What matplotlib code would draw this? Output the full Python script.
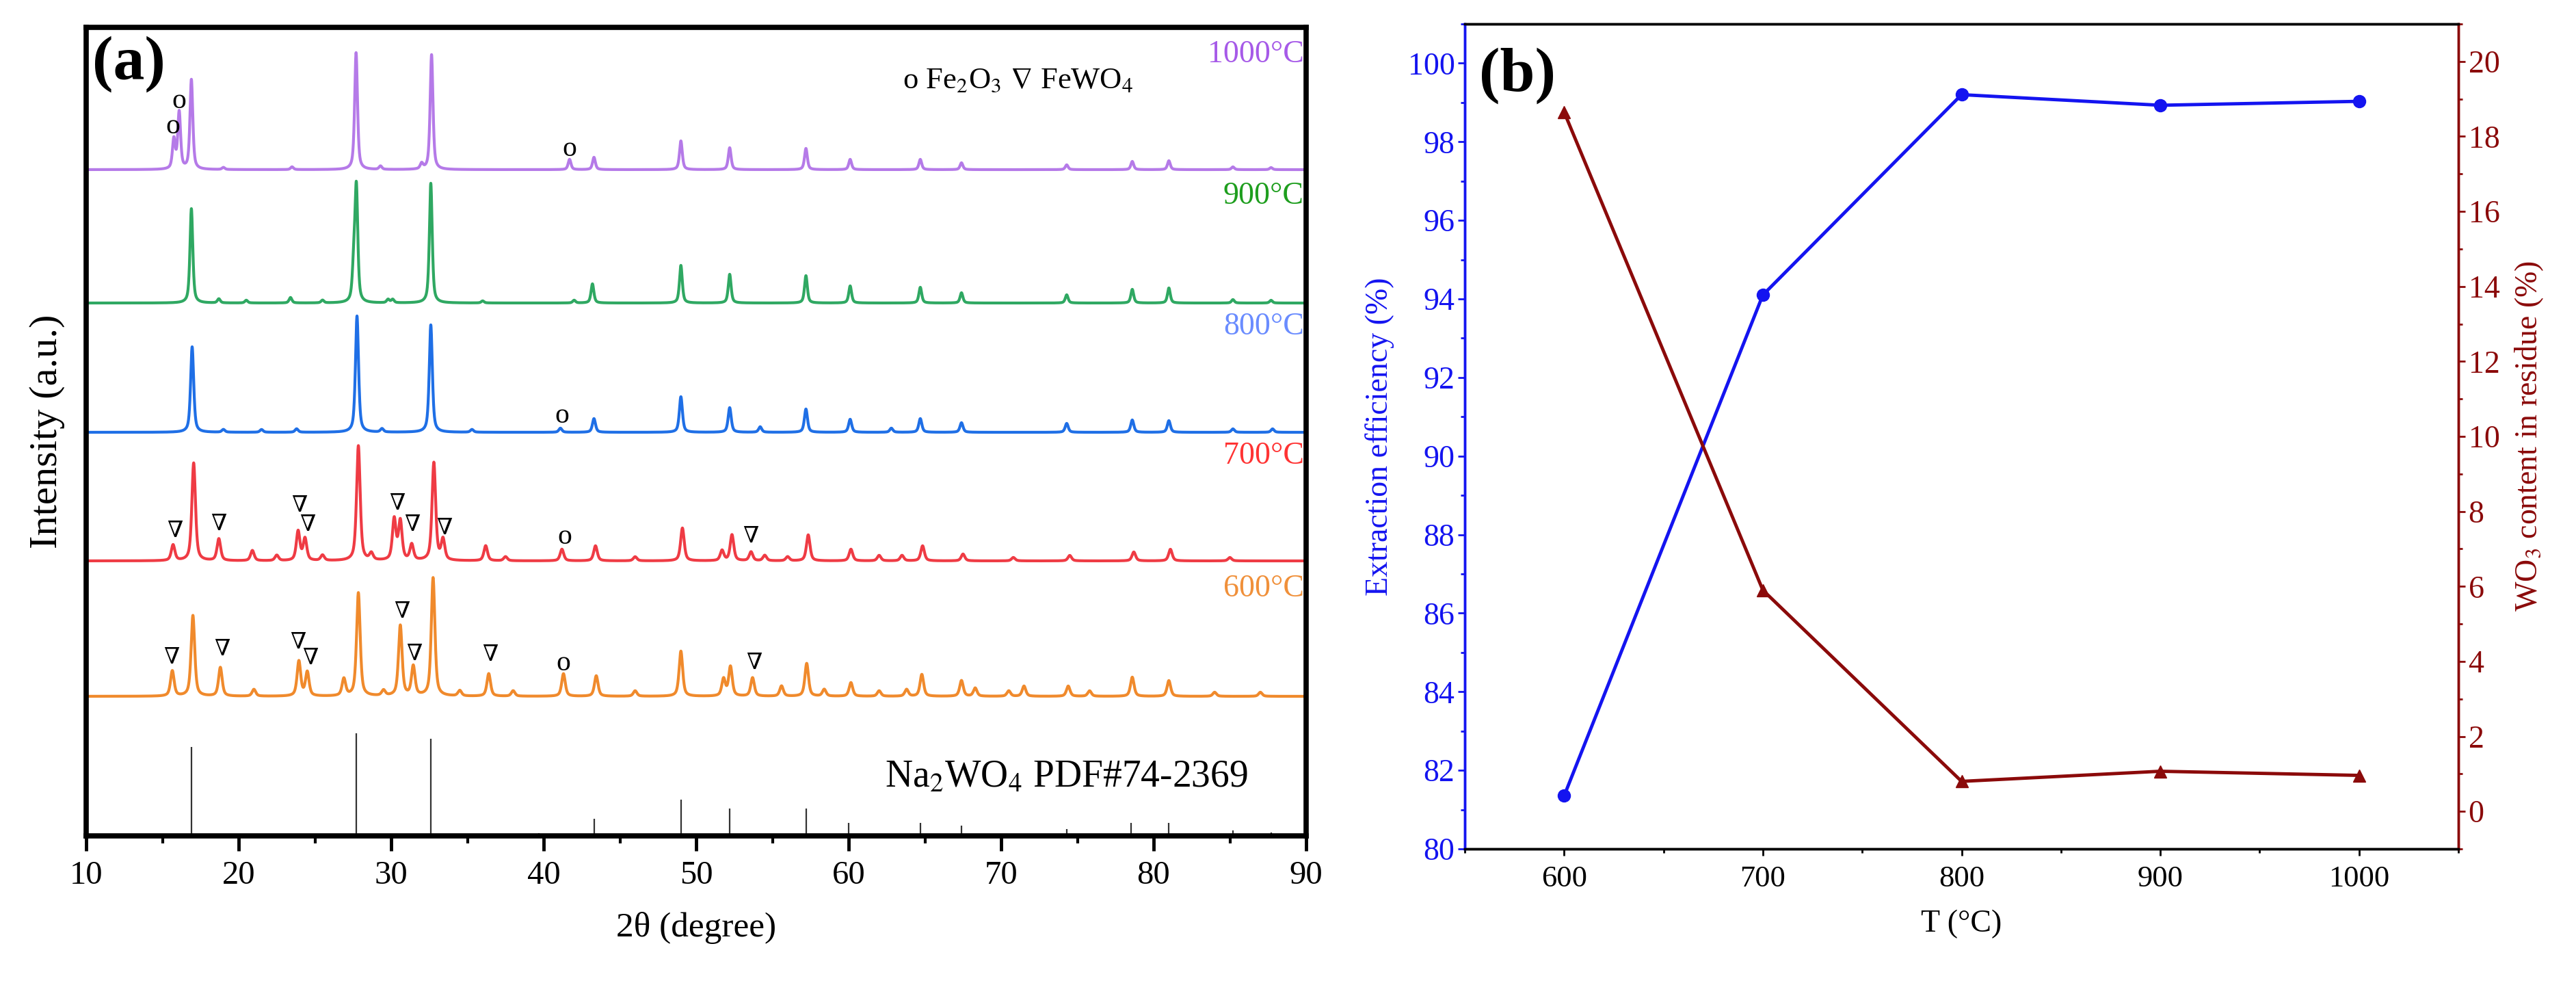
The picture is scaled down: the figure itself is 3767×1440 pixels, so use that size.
import numpy as np
import matplotlib.pyplot as plt
from matplotlib.ticker import MultipleLocator

plt.rcParams['font.family'] = ['Liberation Serif', 'DejaVu Serif']
plt.rcParams['mathtext.fontset'] = 'stix'

# ---------------- (a) XRD patterns: (2theta, peak height) ----------------
peaks_600 = [(15.65, 37), (17.0, 118), (18.8, 42), (21.0, 10), (23.95, 51), (24.5, 35),
             (26.9, 25), (27.85, 151), (29.5, 8), (30.6, 103), (31.45, 43), (32.75, 173),
             (34.5, 8), (36.4, 33), (38.0, 8), (41.3, 33), (43.45, 30), (46.0, 8),
             (49.0, 66), (51.8, 25), (52.25, 43), (53.7, 27), (55.6, 15), (57.25, 48),
             (58.4, 10), (60.15, 20), (62.0, 8), (63.8, 10), (64.8, 32), (67.4, 23),
             (68.3, 12), (70.5, 8), (71.5, 15), (74.4, 15), (75.8, 8), (78.6, 28),
             (81.0, 23), (84.0, 6), (87.0, 6)]
peaks_700 = [(15.7, 23), (17.05, 143), (18.7, 32), (20.9, 15), (22.5, 8), (23.9, 43),
             (24.35, 32), (25.5, 8), (27.85, 168), (28.7, 10), (30.2, 60), (30.6, 57),
             (31.35, 23), (32.8, 143), (33.4, 30), (36.2, 22), (37.5, 6), (41.2, 17),
             (43.4, 22), (46.0, 6), (49.1, 48), (51.7, 15), (52.35, 38), (53.6, 13),
             (54.5, 8), (56.0, 6), (57.35, 38), (60.15, 17), (62.0, 8), (63.5, 8),
             (64.85, 22), (67.5, 10), (70.8, 5), (74.5, 8), (78.7, 13), (81.1, 17), (85.0, 5)]
peaks_800 = [(16.95, 125), (19.0, 4), (21.5, 4), (23.8, 5), (27.76, 170), (29.4, 5),
             (32.6, 157), (35.3, 4), (41.1, 6), (43.3, 20), (49.0, 52), (52.2, 36),
             (54.2, 8), (57.2, 34), (60.1, 19), (62.8, 6), (64.7, 20), (67.4, 14),
             (74.3, 13), (78.6, 18), (81.0, 17), (85.2, 5), (87.8, 5)]
peaks_900 = [(16.9, 138), (18.7, 6), (20.5, 4), (23.4, 8), (25.5, 4), (27.55, 50),
             (27.72, 165), (29.8, 5), (30.1, 5), (32.6, 175), (36.0, 3), (42.0, 4),
             (43.2, 28), (49.0, 55), (52.2, 42), (57.2, 40), (60.1, 25), (64.7, 23),
             (67.4, 15), (74.3, 12), (78.6, 20), (81.0, 22), (85.2, 5), (87.7, 4)]
peaks_1000 = [(15.75, 43), (16.1, 83), (16.9, 131), (19.0, 3), (23.5, 4), (27.7, 171),
              (29.3, 5), (32.0, 8), (32.65, 168), (41.7, 15), (43.3, 18), (49.0, 42),
              (52.2, 32), (57.2, 31), (60.1, 15), (64.7, 15), (67.4, 10), (74.3, 7),
              (78.6, 12), (81.0, 13), (85.2, 4), (87.7, 3)]

series_peaks = [peaks_600, peaks_700, peaks_800, peaks_900, peaks_1000]
series_labels = ["600°C", "700°C", "800°C", "900°C", "1000°C"]
series_offsets = [204, 402, 590, 779, 974]
series_fwhm = [0.28, 0.28, 0.24, 0.22, 0.22]
series_colors = ["#f08a2c", "#ef3b44", "#1f6fe6", "#2fa862", "#b57ae8"]
label_colors = ["#f0903a", "#ff3333", "#6a8cff", "#1e9e1e", "#a65ae8"]
label_y = [361, 555, 744, 935, 1142]

# reference pattern Na2WO4 PDF#74-2369
ref_pos = [16.9, 27.7, 32.6, 39.7, 43.3, 49.0, 52.2, 57.2, 60.0, 64.7, 67.4, 74.3, 78.5, 81.0, 85.2, 87.7]
ref_h = [130, 150, 142, 4, 25, 53, 40, 40, 19, 19, 15, 10, 19, 19, 8, 5]

# phase markers: (2theta, y)
fe2o3_marks = [(15.7, 1037), (16.1, 1074), (41.7, 1004), (41.2, 614), (41.4, 437), (41.3, 252)]
fewo4_marks = [(15.8, 445), (18.7, 455), (24.0, 482), (24.5, 454), (30.4, 485), (31.4, 454),
               (33.5, 449), (53.6, 437),
               (15.6, 260), (18.9, 272), (23.9, 282), (24.7, 259), (30.7, 327), (31.5, 265),
               (36.5, 264), (53.8, 252)]

# ---------------- (b) extraction vs temperature ----------------
temp_b = [600, 700, 800, 900, 1000]
extraction = [81.35, 94.1, 99.2, 98.93, 99.03]
wo3_residue = [18.65, 5.9, 0.8, 1.07, 0.96]


def pattern(x, peaks, fwhm):
    y = np.zeros_like(x)
    for c, h in peaks:
        g = (x - c) / (fwhm / 2)
        y += h * (0.6 / (1 + g ** 2) + 0.4 * np.exp(-np.log(2) * g ** 2))
    return y


fig = plt.figure(figsize=(37.67, 14.4), dpi=100)

# ---- panel (a)
ax = fig.add_axes([126 / 3767, 218 / 1440, 1784 / 3767, 1182 / 1440])
x = np.linspace(10, 90, 8001)
for peaks, off, fw, col in zip(series_peaks, series_offsets, series_fwhm, series_colors):
    ax.plot(x, off + pattern(x, peaks, fw), color=col, lw=3)
for lab, ly, col in zip(series_labels, label_y, label_colors):
    ax.text(89.85, ly, lab, color=col, fontsize=33, ha='right', va='center')

ax.vlines(ref_pos, 0, ref_h, color='#333333', lw=1.6)
ax.text(74.3, 85, "Na$_2$WO$_4$ PDF#74-2369", fontsize=40, ha='center', va='center')

for mx, my in fe2o3_marks:
    ax.text(mx, my, "o", fontsize=30, ha='center', va='center')
for mx, my in fewo4_marks:
    ax.text(mx, my, "∇", fontsize=24, ha='center', va='center')
ax.text(71.1, 1104, "o Fe$_2$O$_3$ $\\nabla$ FeWO$_4$", fontsize=32, ha='center', va='center')
ax.text(0.005, 0.99, "(a)", transform=ax.transAxes, fontsize=66, fontweight='bold',
        ha='left', va='top')

ax.set_xlim(10, 90)
ax.set_ylim(0, 1182)
ax.set_yticks([])
ax.xaxis.set_major_locator(MultipleLocator(10))
ax.xaxis.set_minor_locator(MultipleLocator(5))
ax.tick_params(axis='x', which='major', direction='out', length=16, width=3.5, labelsize=35, pad=10)
ax.tick_params(axis='x', which='minor', direction='out', length=8, width=3)
for sp in ax.spines.values():
    sp.set_linewidth(5.5)
ax.set_xlabel("2θ (degree)", fontsize=37, labelpad=22)
ax.set_ylabel("Intensity (a.u.)", fontsize=42, labelpad=22)

# ---- panel (b)
blue = "#1414f0"
dred = "#8b0a0a"
axb = fig.add_axes([2142 / 3767, 199 / 1440, 1453 / 3767, 1206 / 1440])
axb.plot(temp_b, extraction, color=blue, lw=3.5, marker='o', ms=13)
axb.set_xlim(550, 1050)
axb.set_ylim(80, 101)
axb.xaxis.set_major_locator(MultipleLocator(100))
axb.xaxis.set_minor_locator(MultipleLocator(50))
axb.yaxis.set_major_locator(MultipleLocator(2))
axb.yaxis.set_minor_locator(MultipleLocator(1))
axb.tick_params(axis='x', which='both', direction='out', labelsize=32, width=2, pad=10)
axb.tick_params(axis='x', which='major', length=7)
axb.tick_params(axis='x', which='minor', length=4)
axb.tick_params(axis='y', which='both', direction='out', colors=blue, labelsize=33, width=2)
axb.tick_params(axis='y', which='major', length=7)
axb.tick_params(axis='y', which='minor', length=4)
axb.set_ylabel("Extraction efficiency (%)", color=blue, fontsize=33, labelpad=14)
axb.set_xlabel("T (°C)", fontsize=33, labelpad=18)

axr = axb.twinx()
axr.plot(temp_b, wo3_residue, color=dred, lw=3.5, marker='^', ms=13)
axr.set_ylim(-1, 21)
axr.yaxis.set_major_locator(MultipleLocator(2))
axr.yaxis.set_minor_locator(MultipleLocator(1))
axr.tick_params(axis='y', which='both', direction='out', colors=dred, labelsize=33, width=2)
axr.tick_params(axis='y', which='major', length=7)
axr.tick_params(axis='y', which='minor', length=4)
axr.set_ylabel("WO$_3$ content in residue (%)", color=dred, fontsize=33, labelpad=14)

for a in (axb, axr):
    for sp in a.spines.values():
        sp.set_linewidth(2.5)
axr.spines['left'].set_color(blue)
axr.spines['right'].set_color(dred)
axb.spines['left'].set_color(blue)
axb.spines['right'].set_color(dred)
axb.text(0.0145, 0.972, "(b)", transform=axb.transAxes, fontsize=66, fontweight='bold',
         ha='left', va='top')

fig.savefig("out.png", dpi=100)
